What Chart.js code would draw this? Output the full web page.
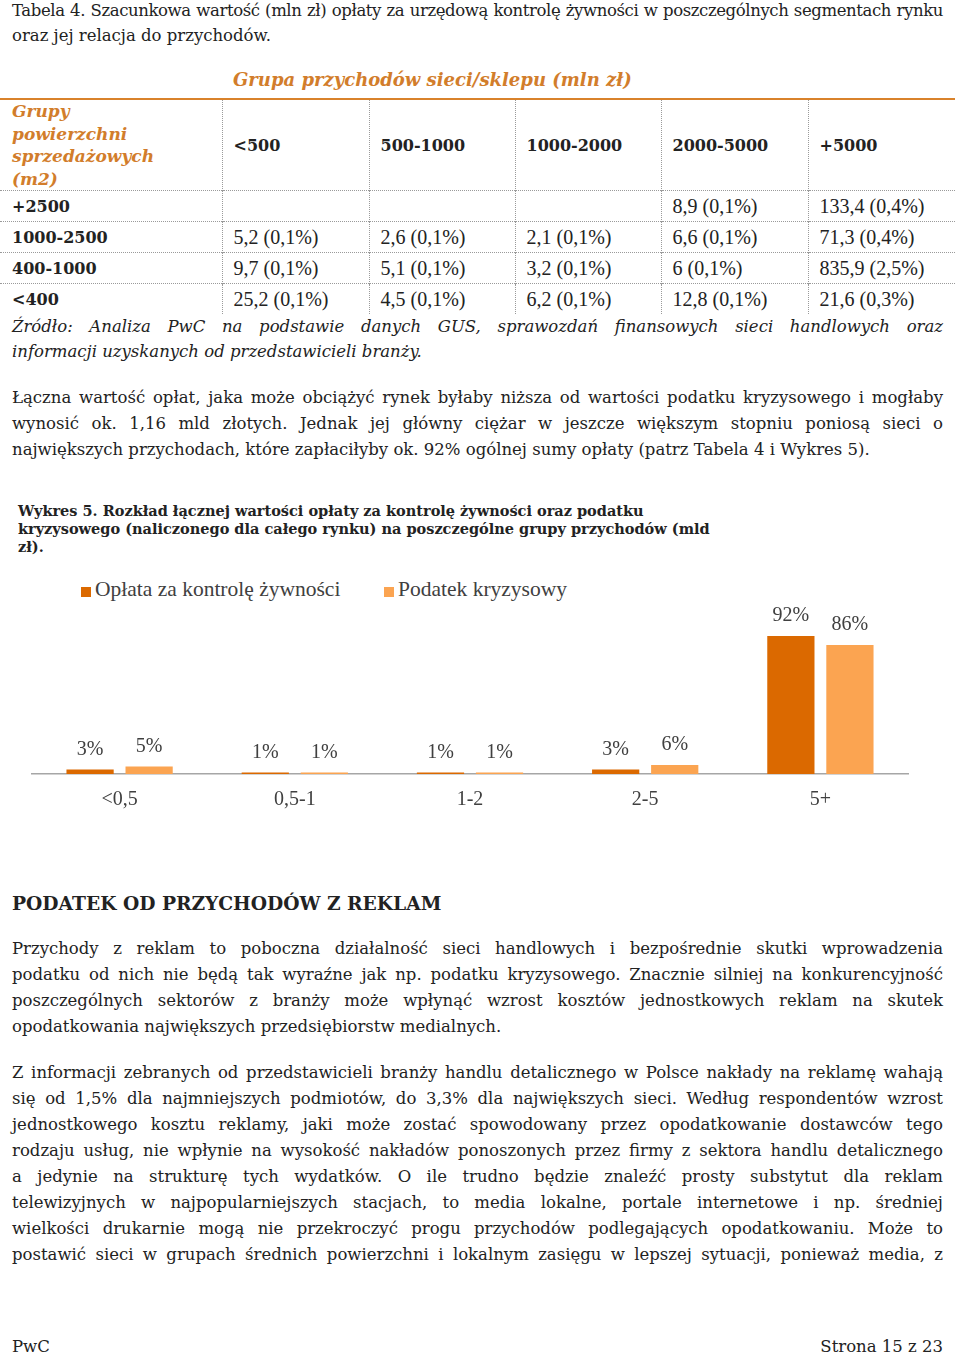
<!DOCTYPE html>
<html lang="pl">
<head>
<meta charset="utf-8">
<script src="https://cdn.jsdelivr.net/npm/chart.js@4.4.1/dist/chart.umd.min.js"></script>
<style>
  body { margin:0; width:960px; height:1359px; position:relative; overflow:hidden; background:#fff;
         color:#222; font-family:"DejaVu Serif", serif; font-size:16.5px; }
  .blk { position:absolute; left:12px; width:931px; line-height:26px; }
  .j { text-align:justify; text-align-last:justify; }
  .it { font-style:italic; }
  #tblTitle { position:absolute; left:233px; top:68px; font-weight:bold; font-style:italic; color:#d27d2b;
              font-size:18px; line-height:24px; }
  #rule { position:absolute; left:0; top:98px; width:955px; height:2px; background:#d9822b; }
  table { position:absolute; left:0; top:100px; width:955px; border-collapse:collapse; table-layout:fixed; }
  td { padding:0 0 0 11px; vertical-align:middle; border-left:1px dotted #9a9a9a; height:30px;
       font-family:"Liberation Serif", serif; font-size:20px; }
  td:first-child { border-left:none; padding-left:12px; font-family:"DejaVu Serif", serif; font-weight:bold; font-size:16px; }
  tr.head td { height:90px; font-family:"DejaVu Serif", serif; font-weight:bold; font-size:16px; }
  tr.head td:first-child { color:#d27d2b; font-style:italic; font-size:17px; line-height:22.5px; }
  tr.row td { border-top:1px dotted #9a9a9a; }
  #wyk { position:absolute; left:18px; top:502px; width:740px; font-weight:bold; font-size:14.5px; line-height:18px; }
  #head2 { position:absolute; left:12px; top:890px; font-weight:bold; font-size:18.7px; line-height:26px; }
  #legend { position:absolute; left:0; top:577px; width:960px; height:24px;
            font-family:"Liberation Serif", serif; font-size:21.5px; color:#404040; }
  #legend span.item { position:absolute; top:0; line-height:24px; white-space:nowrap; }
  #legend span.box { display:inline-block; width:10px; height:10px; margin-right:4px; vertical-align:-1px; }
  #chartBox { position:absolute; left:0; top:590px; width:960px; height:275px; }
  .foot { position:absolute; top:1334px; line-height:26px; }
</style>
</head>
<body>

<div class="blk" style="top:-2px;line-height:25px">
  <div class="j" style="letter-spacing:-0.4px">Tabela 4. Szacunkowa wartość (mln zł) opłaty za urzędową kontrolę żywności w poszczególnych segmentach rynku</div>
  <div>oraz jej relacja do przychodów.</div>
</div>

<div id="tblTitle">Grupa przychodów sieci/sklepu (mln zł)</div>
<div id="rule"></div>
<table id="feeTbl"></table>

<div class="blk it" style="top:314px;line-height:25px">
  <div class="j">Źródło: Analiza PwC na podstawie danych GUS, sprawozdań finansowych sieci handlowych oraz</div>
  <div>informacji uzyskanych od przedstawicieli branży.</div>
</div>

<div class="blk" style="top:385px">
  <div class="j">Łączna wartość opłat, jaka może obciążyć rynek byłaby niższa od wartości podatku kryzysowego i mogłaby</div>
  <div class="j">wynosić ok. 1,16 mld złotych. Jednak jej główny ciężar w jeszcze większym stopniu poniosą sieci o</div>
  <div>największych przychodach, które zapłaciłyby ok. 92% ogólnej sumy opłaty (patrz Tabela 4 i Wykres 5).</div>
</div>

<div id="wyk">
  <div>Wykres 5. Rozkład łącznej wartości opłaty za kontrolę żywności oraz podatku</div>
  <div>kryzysowego (naliczonego dla całego rynku) na poszczególne grupy przychodów (mld</div>
  <div>zł).</div>
</div>

<div id="legend"></div>
<div id="chartBox"><canvas id="shareChart"></canvas></div>

<div id="head2">PODATEK OD PRZYCHODÓW Z REKLAM</div>

<div class="blk" style="top:936px">
  <div class="j">Przychody z reklam to poboczna działalność sieci handlowych i bezpośrednie skutki wprowadzenia</div>
  <div class="j">podatku od nich nie będą tak wyraźne jak np. podatku kryzysowego. Znacznie silniej na konkurencyjność</div>
  <div class="j">poszczególnych sektorów z branży może wpłynąć wzrost kosztów jednostkowych reklam na skutek</div>
  <div>opodatkowania największych przedsiębiorstw medialnych.</div>
</div>

<div class="blk" style="top:1060px">
  <div class="j">Z informacji zebranych od przedstawicieli branży handlu detalicznego w Polsce nakłady na reklamę wahają</div>
  <div class="j">się od 1,5% dla najmniejszych podmiotów, do 3,3% dla największych sieci. Według respondentów wzrost</div>
  <div class="j">jednostkowego kosztu reklamy, jaki może zostać spowodowany przez opodatkowanie dostawców tego</div>
  <div class="j">rodzaju usług, nie wpłynie na wysokość nakładów ponoszonych przez firmy z sektora handlu detalicznego</div>
  <div class="j">a jedynie na strukturę tych wydatków. O ile trudno będzie znaleźć prosty substytut dla reklam</div>
  <div class="j">telewizyjnych w najpopularniejszych stacjach, to media lokalne, portale internetowe i np. średniej</div>
  <div class="j">wielkości drukarnie mogą nie przekroczyć progu przychodów podlegających opodatkowaniu. Może to</div>
  <div class="j">postawić sieci w grupach średnich powierzchni i lokalnym zasięgu w lepszej sytuacji, ponieważ media, z</div>
</div>

<div class="foot" style="left:12px">PwC</div>
<div class="foot" style="right:17px">Strona 15 z 23</div>

<script>
// tabela 4
const areaHeader = 'Grupy<br>powierzchni<br>sprzedażowych<br>(m2)';
const incomeGroups = ['<500', '500-1000', '1000-2000', '2000-5000', '+5000'];
const areaGroups = ['+2500', '1000-2500', '400-1000', '<400'];
const feeRows = [
  ['', '', '', '8,9 (0,1%)', '133,4 (0,4%)'],
  ['5,2 (0,1%)', '2,6 (0,1%)', '2,1 (0,1%)', '6,6 (0,1%)', '71,3 (0,4%)'],
  ['9,7 (0,1%)', '5,1 (0,1%)', '3,2 (0,1%)', '6 (0,1%)', '835,9 (2,5%)'],
  ['25,2 (0,1%)', '4,5 (0,1%)', '6,2 (0,1%)', '12,8 (0,1%)', '21,6 (0,3%)']
];

// wykres 5
const revenueGroups = ['<0,5', '0,5-1', '1-2', '2-5', '5+'];
const feeShare = [3, 1, 1, 3, 92];
const crisisTaxShare = [5, 1, 1, 6, 86];
const seriesNames = ['Opłata za kontrolę żywności', 'Podatek kryzysowy'];
const seriesColors = ['#db6900', '#fba451'];

const esc = s => s.replace(/</g, '&lt;');
const colW = [222, 147, 146, 146, 147, 147];
let html = '<colgroup>' + colW.map(w => '<col style="width:' + w + 'px">').join('') + '</colgroup>';
html += '<tr class="head"><td>' + areaHeader + '</td>' + incomeGroups.map(g => '<td>' + esc(g) + '</td>').join('') + '</tr>';
areaGroups.forEach((g, i) => {
  html += '<tr class="row"><td>' + esc(g) + '</td>' + feeRows[i].map(v => '<td>' + v + '</td>').join('') + '</tr>';
});
document.getElementById('feeTbl').innerHTML = html;

// legenda
const legendX = [81, 384];
document.getElementById('legend').innerHTML = seriesNames.map((n, i) =>
  '<span class="item" style="left:' + legendX[i] + 'px"><span class="box" style="background:' + seriesColors[i] + '"></span>' + n + '</span>'
).join('');

const barLabels = {
  id: 'barLabels',
  afterDatasetsDraw(chart) {
    const ctx = chart.ctx;
    ctx.save();
    ctx.font = '20px "Liberation Serif"';
    ctx.fillStyle = '#404040';
    ctx.textAlign = 'center';
    ctx.textBaseline = 'middle';
    chart.data.datasets.forEach((ds, i) => {
      chart.getDatasetMeta(i).data.forEach((bar, j) => {
        ctx.fillText(ds.data[j] + '%', bar.x, bar.y - 20);
      });
    });
    ctx.restore();
  }
};

const chart = new Chart(document.getElementById('shareChart'), {
  type: 'bar',
  data: {
    labels: revenueGroups,
    datasets: [
      { label: seriesNames[0], data: feeShare, backgroundColor: seriesColors[0] },
      { label: seriesNames[1], data: crisisTaxShare, backgroundColor: seriesColors[1] }
    ]
  },
  options: {
    responsive: true,
    maintainAspectRatio: false,
    animation: false,
    layout: { padding: { left: 32, right: 52, top: 34, bottom: 39 } },
    datasets: { bar: { categoryPercentage: 0.674, barPercentage: 0.8 } },
    plugins: { legend: { display: false }, tooltip: { enabled: false } },
    scales: {
      x: {
        grid: { display: false, drawTicks: false },
        border: { display: true, color: '#a6a6a6', width: 1.5 },
        ticks: { color: '#404040', padding: 14, font: { family: '"Liberation Serif", serif', size: 20 } }
      },
      y: { display: false, min: 0, max: 100 }
    }
  },
  plugins: [barLabels]
});
</script>
</body>
</html>
